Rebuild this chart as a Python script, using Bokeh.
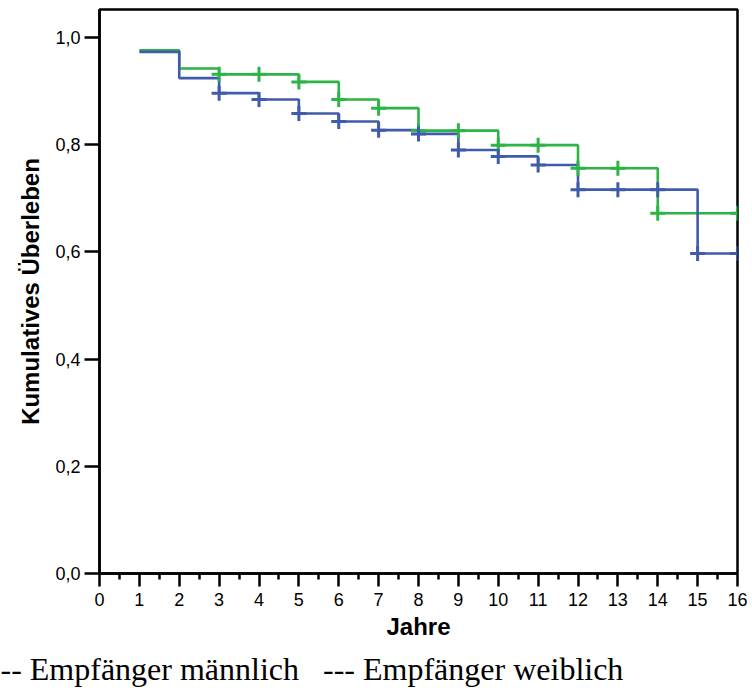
from bokeh.plotting import figure
from bokeh.models import Range1d, FixedTicker, Title
from bokeh.embed import file_html
from bokeh.resources import INLINE

# ---- data ----
years = [1, 2, 3, 4, 5, 6, 7, 8, 9, 10, 11, 12, 13, 14, 15, 16]
surv_male = [0.973, 0.924, 0.896, 0.884, 0.858, 0.843, 0.827, 0.820,
             0.790, 0.778, 0.762, 0.716, 0.716, 0.716, 0.597, 0.597]
surv_female = [0.976, 0.942, 0.931, 0.931, 0.917, 0.884, 0.868, 0.826,
               0.826, 0.799, 0.799, 0.756, 0.756, 0.672, 0.672, 0.672]
cens_male_t = [3, 4, 5, 6, 7, 8, 9, 10, 11, 12, 13, 14, 15, 16]
cens_female_t = [3, 4, 5, 6, 7, 8, 9, 10, 11, 12, 13, 14, 16]

x_ticks = list(range(0, 17))
y_ticks = [0.0, 0.2, 0.4, 0.6, 0.8, 1.0]
y_tick_labels = ["0,0", "0,2", "0,4", "0,6", "0,8", "1,0"]

NB = "\u00a0"
legend_line = "--" + NB + "Empfänger männlich" + NB * 3 + "---" + NB + "Empfänger weiblich"
x_title = "Jahre"
y_title = "Kumulatives Überleben"

BLUE = "#3F5BAA"
GREEN = "#2DB446"

W, H = 752, 694
LEFT, RIGHT, TOP, BOTTOM = 99, 15, 9, 121

p = figure(width=W, height=H,
           x_range=Range1d(0, 16), y_range=Range1d(0, 1.052),
           output_backend="svg", toolbar_location=None,
           min_border_left=LEFT, min_border_right=RIGHT,
           min_border_top=TOP, min_border_bottom=BOTTOM)

p.background_fill_color = "white"
p.border_fill_color = "white"
p.outline_line_color = "black"
p.outline_line_width = 2.5
p.xgrid.visible = False
p.ygrid.visible = False

cm_y = [surv_male[years.index(t)] for t in cens_male_t]
cf_y = [surv_female[years.index(t)] for t in cens_female_t]

p.step(years, surv_female, mode="after", line_color=GREEN, line_width=2.6)
p.step(years, surv_male, mode="after", line_color=BLUE, line_width=2.6)
p.scatter(cens_female_t, cf_y, marker="cross", size=15, line_color=GREEN, line_width=3)
p.scatter(cens_male_t, cm_y, marker="cross", size=15, line_color=BLUE, line_width=3)

# axes
xa = p.xaxis[0]
xa.ticker = FixedTicker(ticks=x_ticks, minor_ticks=[i + 0.5 for i in range(16)])
xa.axis_label = x_title
xa.axis_label_text_font = "Liberation Sans"
xa.axis_label_text_font_style = "bold"
xa.axis_label_text_font_size = "24px"
xa.axis_label_text_color = "black"
xa.axis_label_standoff = 4
xa.major_label_text_font = "Liberation Sans"
xa.major_label_text_font_size = "18px"
xa.major_label_text_color = "black"
xa.major_label_standoff = 6
xa.axis_line_width = 2.5
xa.axis_line_color = "black"
xa.major_tick_line_width = 2.5
xa.major_tick_line_color = "black"
xa.major_tick_in = 0
xa.major_tick_out = 13
xa.minor_tick_line_width = 2.5
xa.minor_tick_line_color = "black"
xa.minor_tick_in = 0
xa.minor_tick_out = 6

ya = p.yaxis[0]
ya.ticker = FixedTicker(ticks=y_ticks, minor_ticks=[])
ya.major_label_overrides = {t: l for t, l in zip(y_ticks, y_tick_labels)}
ya.axis_label = y_title
ya.axis_label_text_font = "Liberation Sans"
ya.axis_label_text_font_style = "bold"
ya.axis_label_text_font_size = "24px"
ya.axis_label_text_color = "black"
ya.axis_label_standoff = 8
ya.major_label_text_font = "Liberation Sans"
ya.major_label_text_font_size = "18px"
ya.major_label_text_color = "black"
ya.major_label_standoff = 4
ya.axis_line_width = 2.5
ya.axis_line_color = "black"
ya.major_tick_line_width = 2.5
ya.major_tick_line_color = "black"
ya.major_tick_in = 0
ya.major_tick_out = 15
ya.minor_tick_line_alpha = 0

# legend line under the x axis, as a side-panel title (not clipped by the frame)
p.add_layout(Title(text=legend_line, align="left", offset=-LEFT, standoff=12,
                   text_font="Liberation Serif", text_font_size="32px",
                   text_font_style="normal", text_color="black"), "below")

open("out.html", "w").write(file_html(p, INLINE))
